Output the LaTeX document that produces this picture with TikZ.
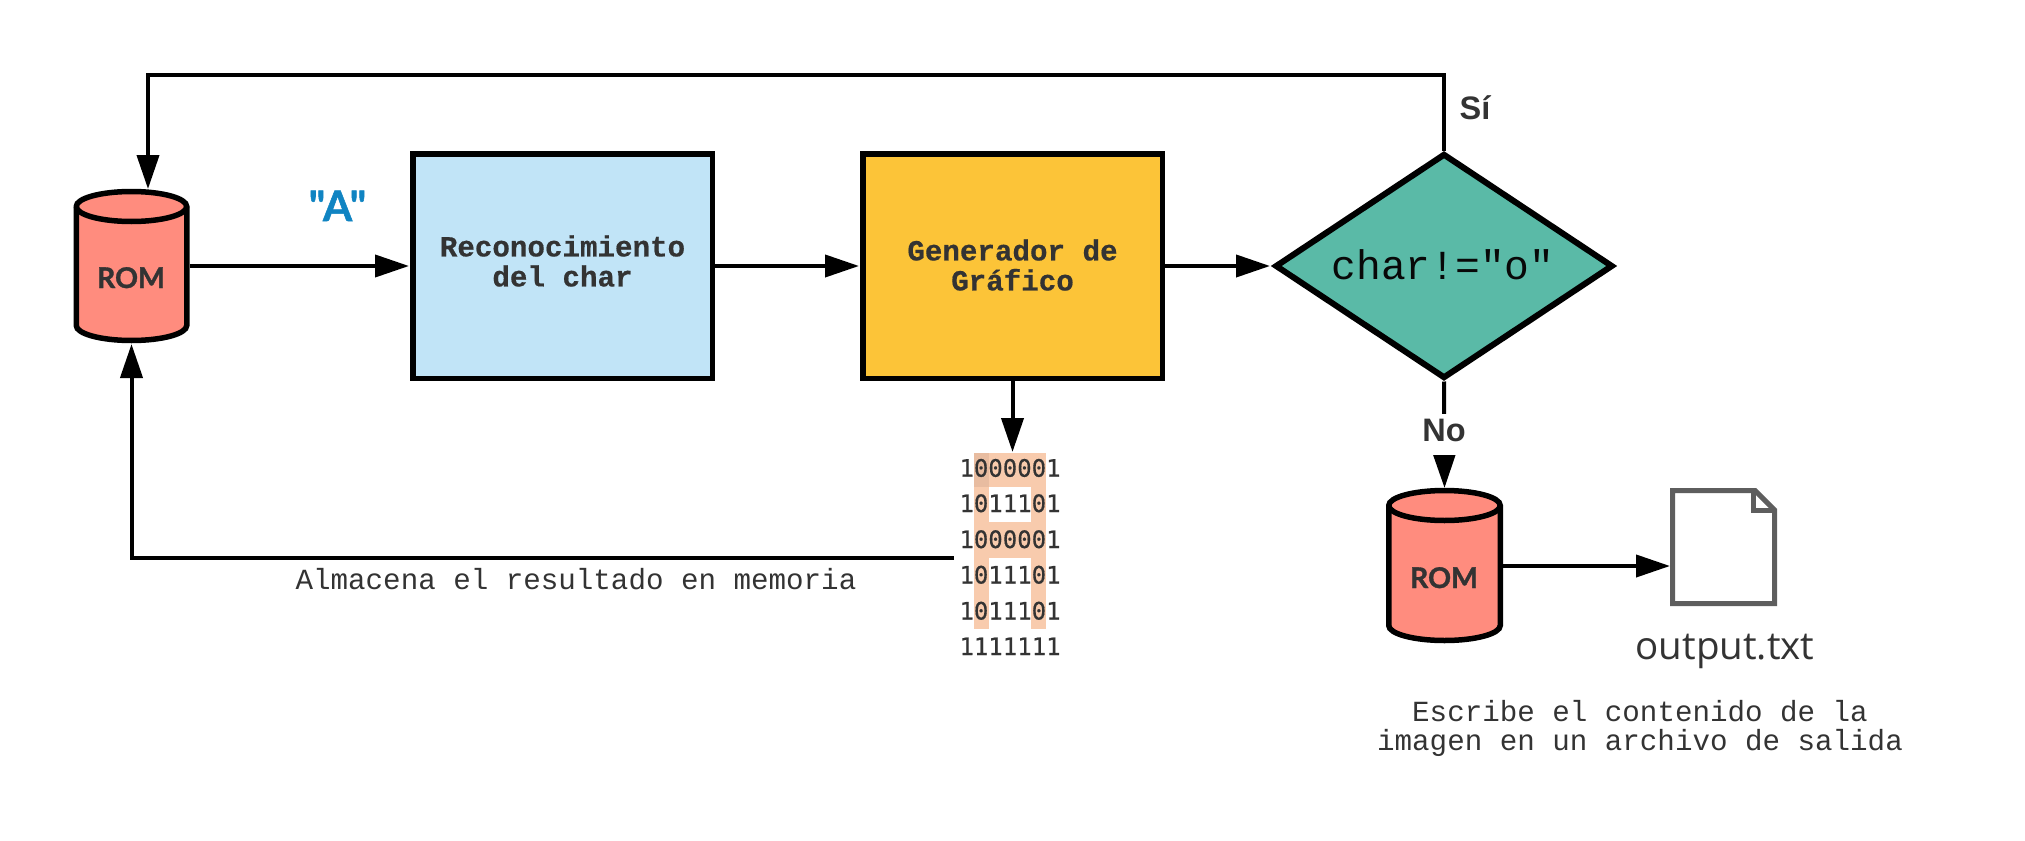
\documentclass[tikz,border=0pt]{standalone}
\usepackage{fontspec}
\setmonofont{Liberation Mono}
\newfontfamily\monoheavy[BoldFeatures={FakeBold=0.5}]{Liberation Mono}
\newfontfamily\latofam[BoldFeatures={FakeBold=1.2}]{Lato}
\newfontfamily\sansfam{Liberation Sans}
\newfontfamily\dejamono[FakeBold=0.4]{DejaVu Sans Mono}
\newfontfamily\openfam{Open Sans}
\usetikzlibrary{arrows.meta,shapes.geometric}
\definecolor{ink}{HTML}{333333}
\definecolor{romfill}{HTML}{FF8C7E}
\definecolor{bluefill}{HTML}{C1E4F7}
\definecolor{yelfill}{HTML}{FCC438}
\definecolor{tealfill}{HTML}{5ABAA7}
\definecolor{bluetext}{HTML}{1084C2}
\definecolor{peach}{HTML}{F8CBAD}
\definecolor{peachdark}{HTML}{E8BCA0}
\definecolor{filegray}{HTML}{5E5E5E}
\tikzset{
  procbox/.style={draw=black,line width=5.5pt,minimum width=299.5pt,minimum height=224.5pt,inner sep=0pt},
  boxtext/.style={inner sep=0pt,align=center,text=ink,font=\monoheavy\bfseries\fontsize{29.2}{30}\selectfont},
  decision/.style={diamond,draw=black,fill=tealfill,line width=6pt,minimum width=338pt,minimum height=225pt,inner sep=0pt,aspect=1.5},
  conn/.style={draw=black,line width=4pt,shorten >=1pt,-{Triangle[length=34pt,width=22pt]}},
  canbox/.style={minimum width=116pt,minimum height=154pt,inner sep=0pt,outer sep=0pt},
  romtext/.style={anchor=base,inner sep=0pt,text=ink,font=\latofam\bfseries\fontsize{28.5}{28}\selectfont},
  monotext/.style={anchor=base,inner sep=0pt,text=ink,font=\ttfamily\fontsize{29.2}{29}\selectfont},
  sitext/.style={anchor=base,inner sep=0pt,text=ink,font=\sansfam\bfseries\fontsize{32.5}{32}\selectfont},
  bittext/.style={anchor=base,inner sep=0pt,text=ink,font=\dejamono\fontsize{24}{24}\selectfont},
  canline/.style={draw=black,fill=romfill,line width=5.5pt},
}
\begin{document}
\begin{tikzpicture}[x=1pt,y=-1pt]
\useasboundingbox (0,0) rectangle (2025,840);
% cylinders
\path[canline] (76.25,206.5) -- (76.25,325.5) arc[start angle=180,end angle=360,x radius=55.25pt,y radius=15pt] -- (186.75,206.5) arc[start angle=0,end angle=180,x radius=55.25pt,y radius=15pt] -- cycle;
\path[draw=black,line width=5.5pt] (76.25,206.5) arc[start angle=180,end angle=360,x radius=55.25pt,y radius=15pt];
\path[canline] (1388.75,505.5) -- (1388.75,625.5) arc[start angle=180,end angle=360,x radius=55.75pt,y radius=15pt] -- (1500.25,505.5) arc[start angle=0,end angle=180,x radius=55.75pt,y radius=15pt] -- cycle;
\path[draw=black,line width=5.5pt] (1388.75,505.5) arc[start angle=180,end angle=360,x radius=55.75pt,y radius=15pt];
\node[canbox] (rom1) at (131.5,266) {};
\node[canbox] (rom2) at (1444.5,566) {};
\node[romtext] (romlabela) at (131,288) {ROM};
\node[romtext] (romlabelb) at (1444,588) {ROM};
% boxes
\node[procbox,fill=bluefill] (box1) at (562.5,266) {};
\node[procbox,fill=yelfill] (box2) at (1012.5,266) {};
\node[boxtext] (box1text) at (562.5,261) {Reconocimiento\\del char};
\node[boxtext] (box2text) at (1012.5,265) {Generador de\\Gráfico};
\node[decision] (dec) at (1444,266) {};
\node[anchor=base,inner sep=0pt,text=black!85!ink,font=\ttfamily\fontsize{41.3}{41}\selectfont] (dectext) at (1443,279) {char!="o"};
% bit picture
\fill[peach] (974,453) rectangle (1046,629);
\fill[white] (989,487) rectangle (1031,522);
\fill[white] (989,558) rectangle (1031,630);
\fill[peachdark] (974,453) rectangle (989,487);
\node[minimum width=117pt,minimum height=210pt,inner sep=0pt,outer sep=0pt] (bits) at (1012.5,558) {};
\node[bittext] (b1) at (1010,476.7) {1000001};
\node[bittext] (b2) at (1010,512) {1011101};
\node[bittext] (b3) at (1010,548) {1000001};
\node[bittext] (b4) at (1010,583.5) {1011101};
\node[bittext] (b5) at (1010,619.5) {1011101};
\node[bittext] (b6) at (1010,655) {1111111};
% file
\node[minimum width=107pt,minimum height=118pt,inner sep=0pt,outer sep=0pt] (file) at (1723.5,547) {};
\draw[draw=filegray,line width=5pt,fill=white] (1672.5,490.5) -- (1755,490.5) -- (1774.5,510) -- (1774.5,603.5) -- (1672.5,603.5) -- cycle;
\draw[draw=filegray,line width=5pt] (1753.5,490.5) -- (1753.5,510) -- (1774.5,510);
% connectors
\coordinate (looptop) at (148,75);
\coordinate (romin) at (148,190);
\draw[conn] (dec.north) |- (looptop) -- (romin);
\draw[conn] (rom1.east) -- (box1.west);
\draw[conn] (box1.east) -- (box2.west);
\draw[conn,shorten >=2pt] (box2.east) -- (dec.west);
\draw[conn] (box2.south) -- (bits.north);
\draw[conn] (bits.west) -| (rom1.south);
\draw[conn] (dec.south) -- (rom2.north);
\coordinate (filein) at (1671,566);
\coordinate (romout) at (1503,566);
\draw[conn] (romout) -- (filein);
% labels
\node[sitext,fill=white,text height=27pt,text depth=14pt,inner xsep=1pt] (nolabel) at (1444,441) {No};
\node[sitext] (silabel) at (1475,120) {Sí};
\node[anchor=base,inner sep=0pt,text=bluetext,font=\latofam\bfseries\fontsize{42}{42}\selectfont] (alabel) at (337.5,221) {"A"};
\node[monotext] (almacena) at (576,589.5) {Almacena el resultado en memoria};
\node[monotext] (escribe1) at (1640,721) {Escribe el contenido de la};
\node[monotext] (escribe2) at (1640,750) {imagen en un archivo de salida};
\node[anchor=base,inner sep=0pt,text=ink,font=\openfam\fontsize{38.5}{38}\selectfont] (output) at (1725,659) {output.txt};
\end{tikzpicture}
\end{document}
